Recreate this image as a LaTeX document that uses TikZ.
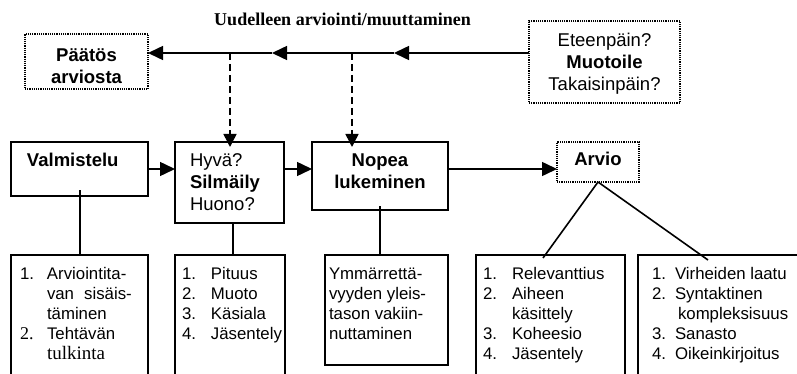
\documentclass[tikz,border=0pt]{standalone}
\usepackage{fontspec}
\setmainfont{Liberation Sans}
\newfontfamily\timesfont{Liberation Serif}
\usetikzlibrary{arrows.meta,calc}
\newcommand\fmid{\fontsize{18.5pt}{22pt}\selectfont}
\newcommand\fsmall{\fontsize{16.8pt}{20pt}\selectfont}
\newcommand\litem[3]{\makebox[#1][l]{#2}#3}
\begin{document}
\begin{tikzpicture}[x=1pt,y=-1pt,
  box/.style={draw, line width=2pt, inner sep=0pt, outer sep=0pt, anchor=north west},
  dotbox/.style={draw, line width=1.3pt, dash pattern=on 1.2pt off 1pt, inner sep=0pt, outer sep=0pt, anchor=north west},
  txt/.style={inner sep=0pt, outer sep=0pt, anchor=base west},
  ctxt/.style={inner sep=0pt, outer sep=0pt, anchor=base},
  arrowline/.style={line width=1.5pt, -{Triangle[length=15pt,width=14pt]}},
  dasharrow/.style={line width=1.5pt, dash pattern=on 7pt off 4pt, -{Triangle[length=13pt,width=13pt]}},
  stem/.style={line width=2pt},
  branch/.style={line width=1.6pt}]
\useasboundingbox (0,0) rectangle (797,374);
\clip (0,0) rectangle (797,374);
\fill[white] (0,0) rectangle (797,374);

% heading of the feedback loop
\node[ctxt, font=\timesfont\bfseries\fontsize{18pt}{22pt}\selectfont] (title) at (342.5,26) {Uudelleen arviointi/muuttaminen};

% top row: decision boxes
\node[dotbox, minimum width=123pt, minimum height=55pt] (paat) at (25,34) {};
\node[ctxt, font=\fmid\bfseries] (paatt) at (86.5,62) {\begin{tabular}[t]{@{}c@{}}Päätös\\arviosta\end{tabular}};
\node[dotbox, minimum width=151pt, minimum height=82pt] (muot) at (529,21) {};
\node[ctxt, font=\fmid] (muott) at (604.5,47) {\begin{tabular}[t]{@{}c@{}}Eteenpäin?\\\textbf{Muotoile}\\Takaisinpäin?\end{tabular}};

% middle row: process steps
\node[box, minimum width=137pt, minimum height=54pt] (valm) at (11,142) {};
\node[txt, font=\fmid\bfseries] (valmt) at (27,167) {Valmistelu};
\node[box, minimum width=109pt, minimum height=81pt] (silm) at (175,142) {};
\node[txt, font=\fmid] (silmt) at (190,167) {\begin{tabular}[t]{@{}l@{}}Hyvä?\\\textbf{Silmäily}\\Huono?\end{tabular}};
\node[box, minimum width=136pt, minimum height=68pt] (nop) at (312,142) {};
\node[ctxt, font=\fmid\bfseries] (nopt) at (380,167) {\begin{tabular}[t]{@{}c@{}}Nopea\\lukeminen\end{tabular}};
\node[dotbox, minimum width=82pt, minimum height=40pt] (arv) at (557,142) {};
\node[ctxt, font=\fmid\bfseries] (arvt) at (598,166) {Arvio};

% bottom row: criteria lists
\node[box, minimum width=137pt, minimum height=130pt] (b1) at (11,255) {};
\node[box, minimum width=110pt, minimum height=130pt] (b2) at (175,255) {};
\node[box, minimum width=123pt, minimum height=110pt] (b3) at (325,255) {};
\node[box, minimum width=149pt, minimum height=130pt] (b4) at (476,255) {};
\node[box, minimum width=172pt, minimum height=130pt] (b5) at (638,255) {};

\node[txt, font=\fsmall] (b1t) at (20,279) {\begin{tabular}[t]{@{}l@{}}
  \litem{27pt}{1.}{Arviointita-}\\
  \litem{27pt}{}{van\hspace{0.6em}sisäis-}\\
  \litem{27pt}{}{täminen}\\
  \litem{27pt}{\timesfont\fontsize{18pt}{20pt}\selectfont 2.}{Tehtävän}\\
  \litem{27pt}{}{\timesfont\fontsize{19pt}{20pt}\selectfont tulkinta}\end{tabular}};
\node[txt, font=\fsmall] (b2t) at (182,279) {\begin{tabular}[t]{@{}l@{}}
  \litem{29pt}{1.}{Pituus}\\
  \litem{29pt}{2.}{Muoto}\\
  \litem{29pt}{3.}{Käsiala}\\
  \litem{29pt}{4.}{Jäsentely}\end{tabular}};
\node[txt, font=\fsmall] (b3t) at (329,279) {\begin{tabular}[t]{@{}l@{}}
  Ymmärrettä-\\vyyden yleis-\\tason vakiin-\\nuttaminen\end{tabular}};
\node[txt, font=\fsmall] (b4t) at (483,279) {\begin{tabular}[t]{@{}l@{}}
  \litem{29pt}{1.}{Relevanttius}\\
  \litem{29pt}{2.}{Aiheen}\\
  \litem{29pt}{}{käsittely}\\
  \litem{29pt}{3.}{Koheesio}\\
  \litem{29pt}{4.}{Jäsentely}\end{tabular}};
\node[txt, font=\fsmall] (b5t) at (652,279) {\begin{tabular}[t]{@{}l@{}}
  \litem{23pt}{1.}{Virheiden laatu}\\
  \litem{23pt}{2.}{Syntaktinen}\\
  \litem{26pt}{}{kompleksisuus}\\
  \litem{23pt}{3.}{Sanasto}\\
  \litem{23pt}{4.}{Oikeinkirjoitus}\end{tabular}};

% feedback line with its arrow heads
\coordinate (ytop) at (0,53);
\coordinate (t1) at (394,53);
\coordinate (t2) at (272,53);
\coordinate (d1) at (230,53);
\coordinate (d2) at (352,53);
\draw[arrowline] (muot.west |- ytop) -- (t1);
\draw[arrowline] (t1) -- (t2);
\draw[arrowline] (t2) -- (paat.east |- ytop);
\draw[dasharrow, shorten >=-5pt] (d1) -- (d1 |- silm.north);
\draw[dasharrow, shorten >=-5pt] (d2) -- (d2 |- nop.north);

% flow of the process steps
\coordinate (ymid) at (0,169);
\draw[arrowline] (valm.east |- ymid) -- (silm.west |- ymid);
\draw[arrowline] (silm.east |- ymid) -- (nop.west |- ymid);
\draw[arrowline] (nop.east |- ymid) -- (arv.west |- ymid);

% stems down to the criteria lists
\coordinate (s1) at ($(valm.south)+(0.5,0)$);
\draw[stem, shorten <=-6pt] (s1) -- (s1 |- b1.north);
\coordinate (s2) at ($(silm.south)+(3.5,0)$);
\draw[stem] (s2) -- (s2 |- b2.north);
\draw[stem, shorten <=-4pt] (nop.south) -- (nop.south |- b3.north);
\coordinate (e4) at (543,258);
\coordinate (e5) at (708,260);
\draw[branch] (arv.south) -- (e4);
\draw[branch] (arv.south) -- (e5);
\end{tikzpicture}
\end{document}
